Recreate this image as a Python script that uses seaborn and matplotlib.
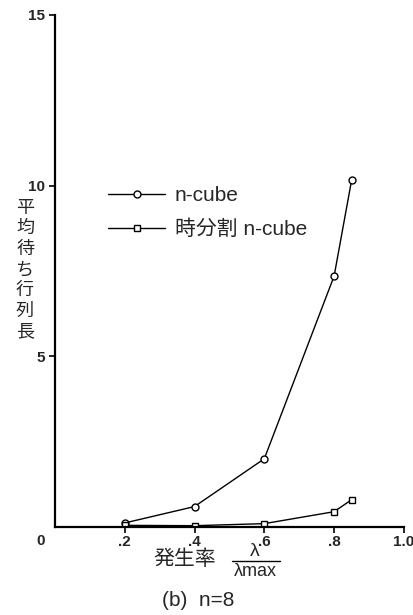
import matplotlib
matplotlib.use("Agg")
import matplotlib.pyplot as plt
import seaborn as sns
import pandas as pd

# data (b) n=8
load = [0.2, 0.4, 0.6, 0.8, 0.85]
ncube_q = [0.12, 0.6, 2.0, 7.35, 10.15]
tdm_q = [0.05, 0.04, 0.1, 0.45, 0.8]
series_names = ["n-cube", "時分割 n-cube"]

df = pd.DataFrame({
    "load": load * 2,
    "queue": ncube_q + tdm_q,
    "series": [series_names[0]] * len(load) + [series_names[1]] * len(load),
})

sns.set_style("ticks")
plt.rcParams["font.family"] = ["Liberation Sans", "Noto Sans CJK JP"]

fig = plt.figure(figsize=(4.13, 6.15), dpi=100)
ax = fig.add_axes([0.133, 0.143, 0.845, 0.833])

sns.lineplot(data=df, x="load", y="queue", hue="series", style="series",
             palette={series_names[0]: "black", series_names[1]: "black"},
             markers={series_names[0]: "o", series_names[1]: "s"},
             dashes=False, linewidth=1.0, markersize=5,
             markerfacecolor="white", markeredgecolor="black", markeredgewidth=1.0,
             ax=ax, legend=True)

ax.set_xlim(0, 1.0)
ax.set_ylim(0, 15)
ax.set_xticks([0.2, 0.4, 0.6, 0.8, 1.0])
ax.set_xticklabels([".2", ".4", ".6", ".8", "1.0"], fontweight="bold", fontsize=11)
ax.set_yticks([5, 10, 15])
ax.set_yticklabels(["5", "10", "15"], fontweight="bold", fontsize=11)
ax.tick_params(axis="both", direction="out", length=4, width=1.2, color="black")
ax.tick_params(axis="x", pad=2)
fig.text(41 / 413, 1 - 541 / 615, "0", ha="center", va="center", fontsize=11,
         fontweight="bold")
for s in ["left", "bottom"]:
    ax.spines[s].set_linewidth(1.6)
    ax.spines[s].set_color("black")
sns.despine(ax=ax)
ax.set_xlabel("")
ax.set_ylabel("")

leg = ax.legend(loc="upper left", bbox_to_anchor=(0.2615, 0.697),
                bbox_transform=fig.transFigure, frameon=False, fontsize=15,
                handlelength=2.75, handletextpad=0.45, labelspacing=0.68,
                borderpad=0, borderaxespad=0)

# vertical Japanese y-label
fig.text(25 / 413, 1 - 270 / 615, "平\n均\n待\nち\n行\n列\n長", ha="center", va="center",
         fontsize=13, linespacing=1.28)

# x label: 発生率 λ / λmax
fig.text(153 / 413, 1 - 559 / 615, "発生率", ha="left", va="center", fontsize=15)
fig.text(255 / 413, 1 - 551 / 615, "λ", ha="center", va="center", fontsize=14)
fig.text(255 / 413, 1 - 572 / 615, "λmax", ha="center", va="center", fontsize=13)
fig.add_artist(plt.Line2D([232 / 413, 280 / 413], [1 - 561 / 615, 1 - 561 / 615],
                          color="black", linewidth=1.0))

fig.text(198 / 413, 1 - 601 / 615, "(b)  n=8", ha="center", va="center", fontsize=15)

fig.savefig("out.png", dpi=100)
